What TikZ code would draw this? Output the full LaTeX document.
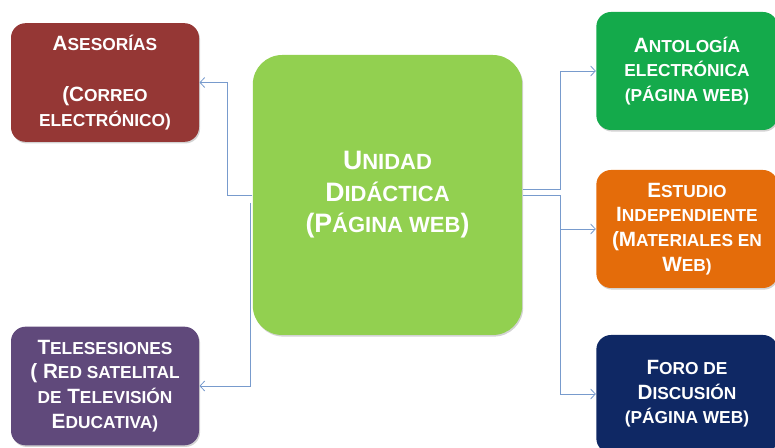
\documentclass[tikz,border=0pt]{standalone}
\usepackage{fontspec}
\setmainfont{Liberation Sans}
\usetikzlibrary{shadows,arrows.meta}

\definecolor{rojoases}{RGB}{149,55,53}
\definecolor{moradotele}{RGB}{96,73,123}
\definecolor{verdeanto}{RGB}{20,170,75}
\definecolor{naranjaestu}{RGB}{228,108,10}
\definecolor{azulforo}{RGB}{15,40,100}
\definecolor{verdeuni}{RGB}{146,208,80}
\definecolor{azulcon}{RGB}{120,155,205}

% versalitas hechas a mano
\newcommand\pq[1]{{\fontsize{13}{18.5}\selectfont #1}}
\newcommand\pqg[1]{{\fontsize{16.5}{23.6}\selectfont #1}}

\tikzset{every picture/.style={line width=0.75pt}}
\tikzset{
  caja/.style={rounded corners=11pt, text=white, align=center, inner sep=0pt,
    minimum width=136pt, minimum height=88.5pt,
    font=\bfseries\fontsize{15.5}{18.5}\selectfont,
    drop shadow={opacity=0.35, shadow xshift=0.8pt, shadow yshift=-1.2pt}},
  cajagrande/.style={caja, rounded corners=22pt, minimum width=202pt, minimum height=210pt,
    font=\bfseries\fontsize{20}{23.6}\selectfont},
  conector/.style={draw=azulcon, line width=0.6pt, -{Straight Barb[length=3.5pt,width=7.5pt]}},
}

\begin{document}
\begin{tikzpicture}[x=0.75pt,y=0.75pt,yscale=-1,xscale=1]
	\useasboundingbox (0,0) rectangle (775,448);
	
	%Shape: Rounded Rect [id:uni] 
	\node[cajagrande, fill=verdeuni] (uni) at (387.5,195) {U\pqg{NIDAD}\\ D\pqg{IDÁCTICA}\\ (P\pqg{ÁGINA WEB})};
	
	%Shape: Rounded Rect [id:ases] 
	\node[caja, minimum width=141pt, minimum height=89pt, fill=rojoases] (ases) at (105,82.5) {A\pq{SESORÍAS}\\[20pt] (C\pq{ORREO}\\ \pq{ELECTRÓNICO)}};
	%Shape: Rounded Rect [id:tele] 
	\node[caja, minimum width=141pt, minimum height=89pt, fill=moradotele] (tele) at (105,386) {T\pq{ELESESIONES}\\ ( R\pq{ED SATELITAL}\\ \pq{DE} T\pq{ELEVISIÓN}\\ E\pq{DUCATIVA)}};
	
	%Shape: Rounded Rect [id:anto] 
	\node[caja, fill=verdeanto] (anto) at (687,71) {A\pq{NTOLOGÍA}\\ \pq{ELECTRÓNICA}\\ \pq{(PÁGINA WEB)}};
	%Shape: Rounded Rect [id:estu] 
	\node[caja, fill=naranjaestu] (estu) at (687,229) {E\pq{STUDIO}\\ I\pq{NDEPENDIENTE}\\ (M\pq{ATERIALES EN}\\ W\pq{EB)}};
	%Shape: Rounded Rect [id:foro] 
	\node[caja, fill=azulforo] (foro) at (687,394) {F\pq{ORO DE}\\ D\pq{ISCUSIÓN}\\ \pq{(PÁGINA WEB)}};
	
	%Straight Lines [id:izq] 
	\coordinate (iz1) at (227,195);
	\coordinate (iz2) at (250,203);
	\draw[conector] (uni.west |- iz1) -- (iz1) |- (ases.east);
	\draw[conector] (iz2) |- (tele.east);
	
	%Straight Lines [id:der] 
	\coordinate (de1) at (560,189);
	\coordinate (de2) at (560,195);
	\draw[conector] (uni.east |- de1) -- (de1) |- (anto.west);
	\draw[conector] (uni.east |- de2) -- (de2) |- (foro.west);
	\draw[conector] (de2 |- estu.west) -- (estu.west);
	
\end{tikzpicture}
\end{document}
